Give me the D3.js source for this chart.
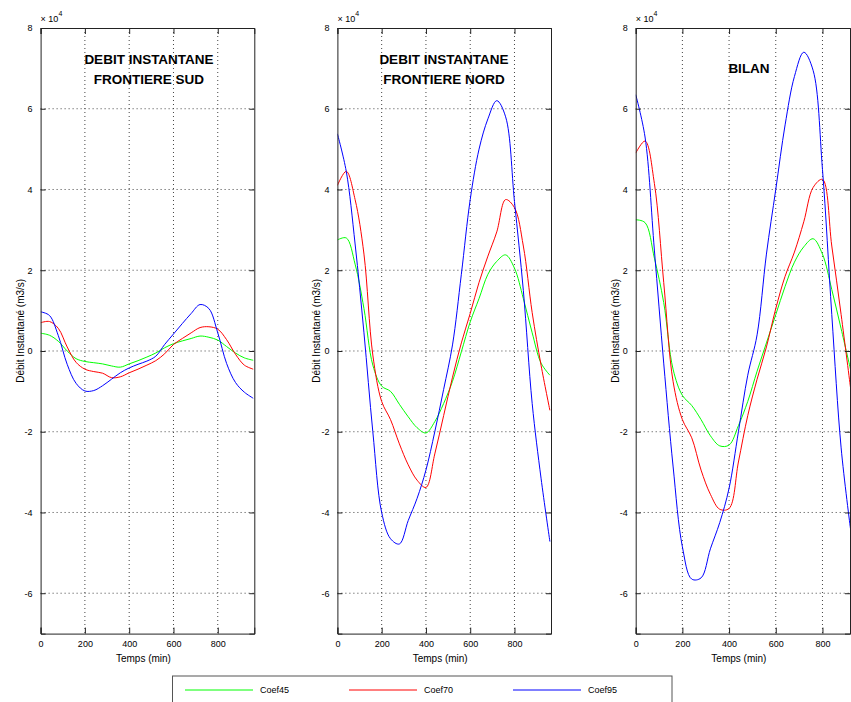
<!DOCTYPE html>
<html>
<head>
<meta charset="utf-8">
<script src="https://cdn.jsdelivr.net/npm/d3@7"></script>
<style>
  body { margin: 0; background: #fff; }
  text { font-family: "Liberation Sans", Arial, sans-serif; }
</style>
</head>
<body>
<script>
var WIDTH = 851,
    HEIGHT = 702;

// time axis (min), one sample every 40 min
var temps = [0, 40, 80, 120, 160, 200, 240, 280, 320, 360, 400, 440, 480,
             520, 560, 600, 640, 680, 720, 760, 800, 840, 880, 920, 960];

// values in units of 1e4 m3/s
var sudCoef45 = [0.44, 0.39, 0.24, 0.0, -0.19, -0.26, -0.29, -0.32, -0.37, -0.40, -0.32, -0.24, -0.15,
                 -0.05, 0.08, 0.18, 0.25, 0.31, 0.37, 0.34, 0.27, 0.11, -0.05, -0.17, -0.23];
var sudCoef70 = [0.70, 0.73, 0.56, 0.10, -0.28, -0.45, -0.51, -0.55, -0.66, -0.64, -0.54, -0.45, -0.35,
                 -0.24, -0.07, 0.16, 0.31, 0.45, 0.58, 0.60, 0.54, 0.28, -0.08, -0.35, -0.45];
var sudCoef95 = [0.97, 0.88, 0.38, -0.33, -0.80, -0.99, -0.98, -0.86, -0.70, -0.54, -0.42, -0.33, -0.25,
                 -0.13, 0.16, 0.42, 0.68, 0.93, 1.15, 1.05, 0.45, -0.31, -0.78, -1.02, -1.17];

var nordCoef45 = [2.75, 2.8, 2.15, 1.05, -0.35, -0.87, -1.0, -1.32, -1.63, -1.9, -2.03, -1.75, -1.3,
                  -0.75, -0.02, 0.72, 1.3, 1.9, 2.22, 2.38, 2.05, 1.3, 0.45, -0.3, -0.6];
var nordCoef70 = [4.1, 4.45, 3.75, 2.4, -0.1, -1.25, -1.7, -2.3, -2.82, -3.2, -3.38, -2.55, -1.6,
                  -0.65, 0.2, 0.93, 1.7, 2.35, 2.95, 3.75, 3.55, 2.6, 0.95, -0.35, -1.47];
var nordCoef95 = [5.38, 4.45, 2.65, 0.45, -2.0, -4.0, -4.65, -4.78, -4.2, -3.65, -2.95, -2.0, -0.95,
                  0.15, 1.9, 3.75, 5.0, 5.75, 6.2, 5.8, 3.7, 1.5, -1.3, -3.15, -4.72];

var bilanCoef45 = [3.25, 3.18, 2.3, 1.2, -0.45, -1.1, -1.35, -1.7, -2.1, -2.35, -2.33, -1.85, -1.25,
                   -0.5, 0.2, 0.9, 1.6, 2.2, 2.58, 2.78, 2.4, 1.52, 0.55, -0.45, null];
var bilanCoef70 = [4.9, 5.2, 4.15, 1.7, -0.75, -1.7, -2.15, -2.95, -3.55, -3.92, -3.9, -2.75, -1.6,
                   -0.7, 0.1, 1.05, 1.85, 2.45, 3.2, 4.05, 4.25, 2.6, 0.9, -0.9, null];
var bilanCoef95 = [6.35, 5.3, 2.5, -0.3, -2.85, -4.85, -5.65, -5.62, -4.9, -4.25, -3.4, -2.0, -0.6,
                   0.4, 2.4, 4.0, 5.6, 6.8, 7.4, 6.95, 4.5, 0.9, -2.4, -4.4, null];

var seriesNames = ["Coef45", "Coef70", "Coef95"],
    seriesColors = ["#00ff00", "#ff0000", "#0000ff"];

var xTicks = [0, 200, 400, 600, 800],
    yTicks = [-6, -4, -2, 0, 2, 4, 6, 8];

var panels = [
  { title: ["DEBIT INSTANTANE", "FRONTIERE SUD"], x0: 40.6, x1: 254.3, xMax: 965, tx: 149, ty: 59,
    data: [sudCoef45, sudCoef70, sudCoef95] },
  { title: ["DEBIT INSTANTANE", "FRONTIERE NORD"], x0: 337.4, x1: 551, xMax: 965, tx: 444, ty: 59,
    data: [nordCoef45, nordCoef70, nordCoef95] },
  { title: ["BILAN"], x0: 635.7, x1: 850, xMax: 918, tx: 749, ty: 68,
    data: [bilanCoef45, bilanCoef70, bilanCoef95] }
];

var TOP = 28, BOTTOM = 633.6;

var svg = d3.select("body").append("svg")
      .attr("width", WIDTH)
      .attr("height", HEIGHT);

var y = d3.scaleLinear().domain([-7, 8]).range([BOTTOM, TOP]);

panels.forEach(function(p, i) {
  var x = d3.scaleLinear().domain([0, p.xMax]).range([p.x0, p.x1]);
  var g = svg.append("g");

  // dotted grid
  g.selectAll(".gx").data(xTicks.filter(function(d) { return d > 0; }))
    .enter().append("line")
    .attr("x1", function(d) { return x(d); }).attr("x2", function(d) { return x(d); })
    .attr("y1", TOP).attr("y2", BOTTOM)
    .attr("stroke", "#444").attr("stroke-width", 1).attr("stroke-dasharray", "1,3");
  g.selectAll(".gy").data(yTicks.filter(function(d) { return d < 8; }))
    .enter().append("line")
    .attr("x1", p.x0).attr("x2", p.x1)
    .attr("y1", function(d) { return y(d); }).attr("y2", function(d) { return y(d); })
    .attr("stroke", "#444").attr("stroke-width", 1).attr("stroke-dasharray", "1,3");

  // curves
  g.append("clipPath").attr("id", "clip" + i)
    .append("rect").attr("x", p.x0).attr("y", TOP).attr("width", p.x1 - p.x0).attr("height", BOTTOM - TOP);

  var line = d3.line()
      .defined(function(d) { return d != null; })
      .x(function(d, j) { return x(temps[j]); })
      .y(function(d) { return y(d); })
      .curve(d3.curveCatmullRom.alpha(0.5));

  p.data.forEach(function(s, k) {
    g.append("path")
      .attr("clip-path", "url(#clip" + i + ")")
      .attr("d", line(s))
      .attr("fill", "none")
      .attr("stroke", seriesColors[k])
      .attr("stroke-width", 1);
  });

  // axes with inward ticks, box all round
  var fmt = function(d) { return String(d); };
  g.append("g").attr("transform", "translate(0," + BOTTOM + ")")
    .call(d3.axisBottom(x).tickValues(xTicks).tickSize(-6).tickPadding(7).tickFormat(fmt));
  g.append("g").attr("transform", "translate(0," + TOP + ")")
    .call(d3.axisTop(x).tickValues(xTicks).tickSize(-6).tickFormat(""));
  g.append("g").attr("transform", "translate(" + p.x0 + ",0)")
    .call(d3.axisLeft(y).tickValues(yTicks).tickSize(-5).tickPadding(8).tickFormat(fmt));
  g.append("g").attr("transform", "translate(" + p.x1 + ",0)")
    .call(d3.axisRight(y).tickValues(yTicks).tickSize(-5).tickFormat(""));

  g.selectAll(".domain").attr("stroke", "#222");
  g.selectAll(".tick line").attr("stroke", "#222");
  g.selectAll(".tick text").attr("font-size", "9px").attr("fill", "#000")
    .attr("font-family", "'Liberation Sans', Arial, sans-serif");

  // exponent label
  var ex = g.append("text").attr("x", p.x0).attr("y", 22).attr("font-size", "9px");
  ex.append("tspan").text("\u00d7 10");
  ex.append("tspan").attr("dy", -6).attr("font-size", "7px").text("4");

  // titles
  var t = g.append("text").attr("text-anchor", "middle").attr("font-weight", "bold")
    .attr("font-size", "13.5px");
  p.title.forEach(function(line, j) {
    t.append("tspan").attr("x", p.tx).attr("y", p.ty + 5 + j * 20).text(line);
  });

  g.append("text")
    .attr("text-anchor", "middle").attr("font-size", "10px")
    .attr("x", (p.x0 + p.x1) / 2 - 4).attr("y", 662)
    .text("Temps (min)");

  g.append("text")
    .attr("text-anchor", "middle").attr("font-size", "10px")
    .attr("transform", "translate(" + (p.x0 - 17) + "," + ((TOP + BOTTOM) / 2) + ") rotate(-90)")
    .text("Débit Instantané (m3/s)");
});

// legend
var legend = svg.append("g");
legend.append("rect")
  .attr("x", 172.5).attr("y", 676).attr("width", 499.5).attr("height", 40)
  .attr("fill", "#fff").attr("stroke", "#555").attr("stroke-width", 1);

var lx = d3.scalePoint().domain(seriesNames).range([185, 513]);
seriesNames.forEach(function(name, k) {
  legend.append("line")
    .attr("x1", lx(name)).attr("x2", lx(name) + 68)
    .attr("y1", 690).attr("y2", 690)
    .attr("stroke", seriesColors[k]).attr("stroke-width", 1);
  legend.append("text")
    .attr("x", lx(name) + 75).attr("y", 693)
    .attr("font-size", "9px")
    .text(name);
});
</script>
</body>
</html>
